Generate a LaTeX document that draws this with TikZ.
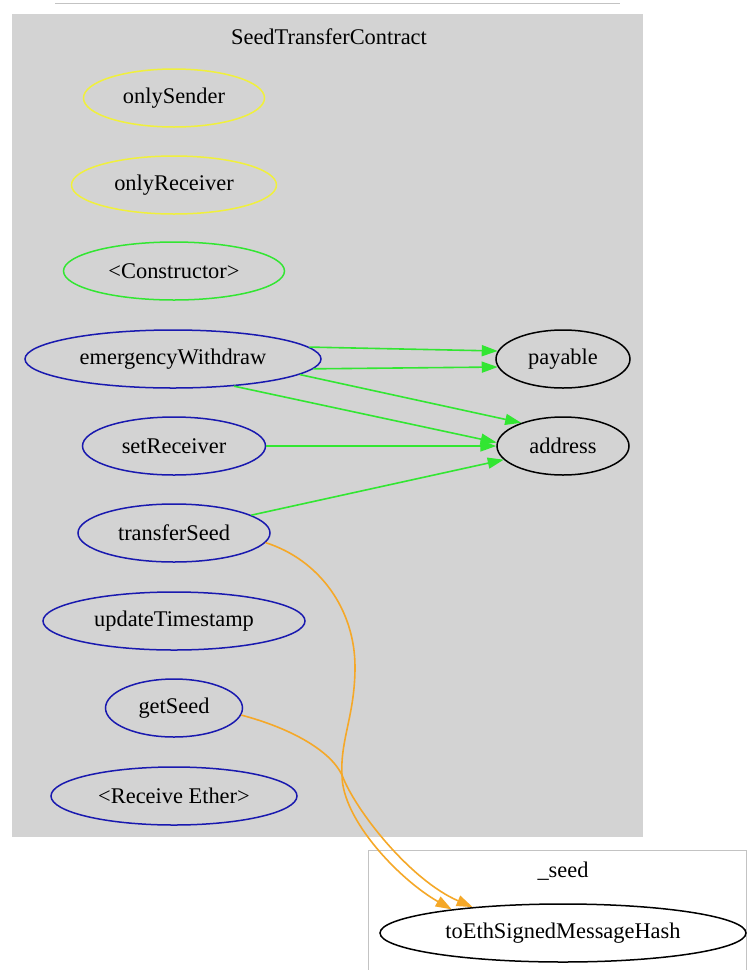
\documentclass[tikz,border=0pt]{standalone}
\usepackage{fontspec}
\setmainfont{Liberation Serif}
\usetikzlibrary{shapes.geometric,arrows.meta}
\definecolor{gvyellow}{RGB}{240,240,60}
\definecolor{gvgreen}{RGB}{50,230,50}
\definecolor{gvblue}{RGB}{25,25,175}
\definecolor{gvorange}{RGB}{245,168,40}
\definecolor{clgray}{RGB}{211,211,211}
\definecolor{rulegray}{RGB}{195,195,195}
\begin{document}
\begin{tikzpicture}[x=1pt,y=-1pt,
  every node/.style={font=\fontsize{22.4}{26}\selectfont},
  fn/.style={ellipse, draw, line width=1.5pt, inner sep=0pt, minimum height=58pt},
  modf/.style={fn, draw=gvyellow},
  ctorf/.style={fn, draw=gvgreen},
  pubf/.style={fn, draw=gvblue},
  extf/.style={fn, draw=black},
  gedge/.style={draw=gvgreen, line width=1.6pt, -{Triangle[length=16pt,width=11pt]}},
  oedge/.style={draw=gvorange, line width=1.6pt, -{Triangle[length=16pt,width=11pt]}},
  lbl/.style={inner sep=0pt}
]
\useasboundingbox (0,0) rectangle (747,970);
\clip (0,0) rectangle (747,970);
% screenshot rule at the top
\coordinate (ruleL) at (55,3);
\coordinate (ruleR) at (620,3);
\draw[rulegray, line width=1pt] (ruleL) -- (ruleR);
% clusters
\fill[clgray] (12,14) rectangle (643,837);
\draw[rulegray, line width=1pt, fill=white] (368.5,850.5) rectangle (746.5,1000);
\node[lbl] (title) at (329,37) {SeedTransferContract};
\node[lbl] (seedtitle) at (563,871) {\_seed};
% nodes
\node[modf, minimum width=181pt] (oS) at (174,98) {onlySender};
\node[modf, minimum width=205pt] (oR) at (174,185) {onlyReceiver};
\node[ctorf, minimum width=221pt] (ctor) at (174,271) {<Constructor>};
\node[pubf, minimum width=296pt] (eW) at (173,359) {emergencyWithdraw};
\node[pubf, minimum width=183pt] (sR) at (174,446) {setReceiver};
\node[pubf, minimum width=192pt] (tS) at (174,533) {transferSeed};
\node[pubf, minimum width=262pt] (uT) at (174,621) {updateTimestamp};
\node[pubf, minimum width=137pt] (gS) at (174,708) {getSeed};
\node[pubf, minimum width=246pt] (rE) at (174,796) {<Receive Ether>};
\node[extf, minimum width=134pt] (pay) at (563,359) {payable};
\node[extf, minimum width=132pt] (addr) at (563,446) {address};
\node[extf, minimum width=366pt] (toE) at (563,933) {toEthSignedMessageHash};
% green edges
\draw[gedge] (eW.5) -- (pay.173);
\draw[gedge] (eW.-4) -- (pay.187);
\draw[gedge] (eW.-7) -- (addr.151);
\draw[gedge] (eW.-24) -- (addr.177);
\draw[gedge] (sR.0) -- (addr.180);
\draw[gedge] (tS.13) -- (addr.193);
% orange edges
\draw[oedge] (tS.-6) .. controls (320,560) and (355,610) .. (355,667)
  .. controls (355,715) and (340,740) .. (342,775)
  .. controls (342,820) and (400,880) .. (toE.168);
\draw[oedge] (gS.-6) .. controls (290,728) and (330,750) .. (342,775)
  .. controls (355,810) and (410,880) .. (toE.164);
\end{tikzpicture}
\end{document}
